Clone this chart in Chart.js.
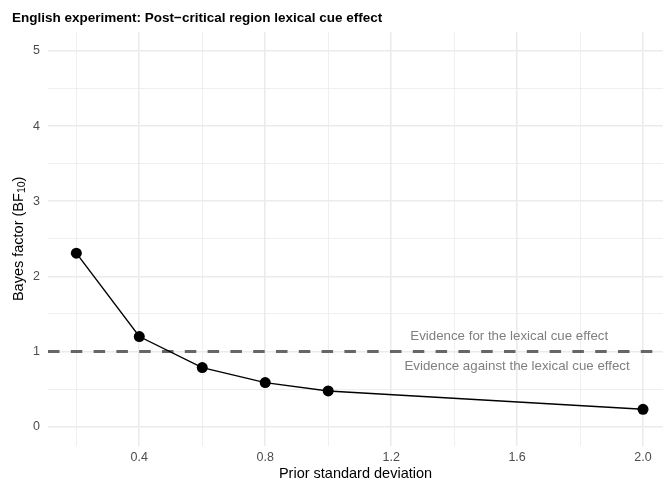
<!DOCTYPE html>
<html>
<head>
<meta charset="utf-8">
<script src="https://cdn.jsdelivr.net/npm/chart.js@4.4.0/dist/chart.umd.min.js"></script>
<style>
html, body { margin: 0; padding: 0; background: #fff; }
</style>
</head>
<body>
<canvas id="bf_chart" width="663" height="483"></canvas>
<script>
// Data
const prior_sd = [0.2, 0.4, 0.6, 0.8, 1.0, 2.0];
const bayes_factor = [2.31, 1.20, 0.787, 0.587, 0.476, 0.232];

// Ticks
const x_major = [0.4, 0.8, 1.2, 1.6, 2.0];
const x_minor = [0.2, 0.6, 1.0, 1.4, 1.8];
const y_major = [0, 1, 2, 3, 4, 5];
const y_minor = [0.5, 1.5, 2.5, 3.5, 4.5];

// Reference line and its labels
const threshold = 1;
const label_for = 'Evidence for the lexical cue effect';
const label_for_at = [1.575, 1.2];
const label_against = 'Evidence against the lexical cue effect';
const label_against_at = [1.6, 0.8];

Chart.defaults.font.family = "'Liberation Sans', Arial, sans-serif";

const gridWidth = (major) => (ctx) => major.includes(ctx.tick.value) ? 1.6 : 0.8;

// dashed line + text labels
const thresholdPlugin = {
    id: 'threshold',
    beforeDatasetsDraw(chart) {
        const {ctx, chartArea, scales} = chart;
        const y = scales.y.getPixelForValue(threshold);
        ctx.save();
        ctx.strokeStyle = '#666666';
        ctx.lineWidth = 3;
        ctx.setLineDash([11.5, 11.3]);
        ctx.beginPath();
        ctx.moveTo(chartArea.left, y);
        ctx.lineTo(chartArea.right, y);
        ctx.stroke();
        ctx.setLineDash([]);
        ctx.fillStyle = '#7f7f7f';
        ctx.font = "13.3px 'Liberation Sans', Arial, sans-serif";
        ctx.textAlign = 'center';
        ctx.textBaseline = 'middle';
        ctx.fillText(label_for, scales.x.getPixelForValue(label_for_at[0]), scales.y.getPixelForValue(label_for_at[1]));
        ctx.fillText(label_against, scales.x.getPixelForValue(label_against_at[0]), scales.y.getPixelForValue(label_against_at[1]));
        ctx.restore();
    }
};

// y axis title with subscript
const yTitlePlugin = {
    id: 'yTitle',
    afterDraw(chart) {
        const {ctx, chartArea} = chart;
        const mainFont = "14.5px 'Liberation Sans', Arial, sans-serif";
        const subFont = "10.5px 'Liberation Sans', Arial, sans-serif";
        const parts = [['Bayes factor (BF', mainFont, 0], ['10', subFont, 3], [')', mainFont, 0]];
        ctx.save();
        ctx.translate(19, (chartArea.top + chartArea.bottom) / 2);
        ctx.rotate(-Math.PI / 2);
        ctx.fillStyle = '#000';
        ctx.textBaseline = 'middle';
        ctx.textAlign = 'left';
        let total = 0;
        parts.forEach(p => { ctx.font = p[1]; total += ctx.measureText(p[0]).width; });
        let x = -total / 2;
        parts.forEach(p => {
            ctx.font = p[1];
            ctx.fillText(p[0], x, p[2]);
            x += ctx.measureText(p[0]).width;
        });
        ctx.restore();
    }
};

let bf_chart = new Chart(document.getElementById('bf_chart').getContext('2d'), {
    type: 'line',
    data: {
        datasets: [{
            data: prior_sd.map((x, i) => ({x: x, y: bayes_factor[i]})),
            borderColor: '#000',
            backgroundColor: '#000',
            borderWidth: 1.4,
            pointRadius: 5.5,
            pointBorderWidth: 0,
            tension: 0
        }]
    },
    options: {
        responsive: false,
        animation: false,
        layout: {autoPadding: false, padding: {left: 12, right: 0, top: 0, bottom: 0}},
        plugins: {
            legend: {display: false},
            tooltip: {enabled: false},
            title: {
                display: true,
                text: 'English experiment: Post\u2212critical region lexical cue effect',
                align: 'start',
                color: '#000',
                font: {size: 13.5, weight: 'bold'},
                padding: {top: 9.8, bottom: 6.2}
            }
        },
        scales: {
            x: {
                type: 'linear',
                min: 0.11,
                max: 2.0635,
                afterBuildTicks: s => { s.ticks = x_minor.concat(x_major).sort((a, b) => a - b).map(v => ({value: v})); },
                afterFit: s => { s.height = 37.5; s.paddingLeft = 0; s.paddingRight = 0; },
                ticks: {
                    autoSkip: false,
                    maxRotation: 0,
                    padding: 5,
                    color: '#4d4d4d',
                    font: {size: 12.5},
                    callback: v => x_major.includes(v) ? v.toFixed(1) : ''
                },
                grid: {color: '#ebebeb', lineWidth: gridWidth(x_major), drawTicks: false},
                border: {display: false},
                title: {
                    display: true,
                    text: 'Prior standard deviation',
                    color: '#000',
                    font: {size: 14.5},
                    padding: {top: 0, bottom: 0.6}
                }
            },
            y: {
                type: 'linear',
                min: -0.25,
                max: 5.25,
                afterBuildTicks: s => { s.ticks = y_minor.concat(y_major).sort((a, b) => a - b).map(v => ({value: v})); },
                afterFit: s => { s.width = 36; s.paddingTop = 0; s.paddingBottom = 0; },
                ticks: {
                    autoSkip: false,
                    padding: 8,
                    color: '#4d4d4d',
                    font: {size: 12.5},
                    callback: v => y_major.includes(v) ? String(v) : ''
                },
                grid: {color: '#ebebeb', lineWidth: gridWidth(y_major), drawTicks: false},
                border: {display: false}
            }
        }
    },
    plugins: [thresholdPlugin, yTitlePlugin]
});
</script>
</body>
</html>
